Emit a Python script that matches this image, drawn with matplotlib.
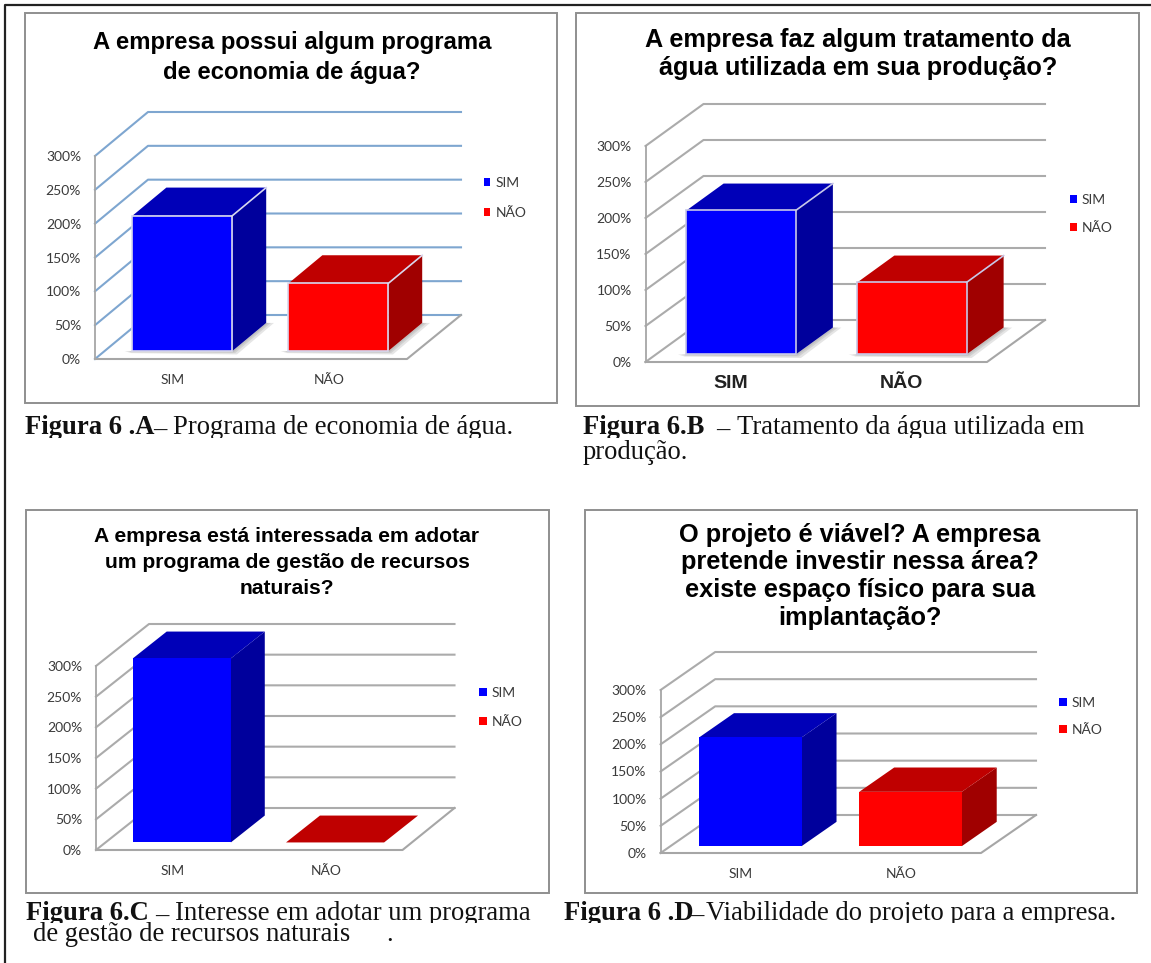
# Imports
from matplotlib import pyplot as plt
from matplotlib.patches import Patch, Polygon, Rectangle
from matplotlib.transforms import Bbox

# Data
CATEGORIES: list[str] = ["SIM", "NÃO"]
Y_TICKS: list[int] = [0, 50, 100, 150, 200, 250, 300]
VALUES_A: list[int] = [200, 100]
VALUES_B: list[int] = [200, 100]
VALUES_C: list[int] = [300, 0]
VALUES_D: list[int] = [200, 100]
TITLE_A: list[str] = ["A empresa possui algum programa", "de economia de água?"]
TITLE_B: list[str] = ["A empresa faz algum tratamento da", "água utilizada em sua produção?"]
TITLE_C: list[str] = ["A empresa está interessada em adotar", "um programa de gestão de recursos", "naturais?"]
TITLE_D: list[str] = ["O projeto é viável? A empresa", "pretende investir nessa área?", "existe espaço físico para sua", "implantação?"]

# Constants
WIDTH: int = 1151
HEIGHT: int = 963
DPI: int = 100
BLUE: tuple = ("#0000ff", "#0000b8", "#00009c")
RED: tuple = ("#ff0000", "#bf0000", "#a00000")
BAR_LEFT: float = 0.24
BAR_WIDTH: float = 0.64
BAR_LIFT: float = 0.18
BAR_DEPTH: float = 0.64
TITLE_FONT: str = "Liberation Sans"
TICK_FONT: str = "Lato"
CAPTION_FONT: str = "Liberation Serif"
CAPTION_SIZE: float = 19.2

fig = plt.figure(figsize=(WIDTH / DPI, HEIGHT / DPI), dpi=DPI, facecolor="white")


# Helpers working in pixels of the picture, y going down
def fx(x):
	return x / WIDTH


def fy(y):
	return 1 - y / HEIGHT


def box(x0, y0, x1, y1, color, lw):
	fig.add_artist(Rectangle((fx(x0), fy(y1)), (x1 - x0) / WIDTH, (y1 - y0) / HEIGHT, fill=False, edgecolor=color, linewidth=lw, transform=fig.transFigure))


def caption(x, y, text, bold=False, cut=None):
	label = fig.text(fx(x), fy(y), text, family=CAPTION_FONT, fontsize=CAPTION_SIZE, weight="bold" if bold else "normal", color="#111111", va="baseline")
	# The scanned captions lose their descenders on the first line
	if cut is not None:
		label.set_clip_box(Bbox([[0, HEIGHT - cut], [WIDTH, HEIGHT]]))
		label.set_clip_on(True)


def draw_panel(values, title, frame, wall, depth, grid_right, title_pos, title_size, title_gap, grid_color, legend_pos, legend_gap, marker, edge=None, shadow=False, bold_x=False):
	box(*frame, "#8f8f8f", 1.4)

	# Title
	for i, line in enumerate(title):
		fig.text(fx(title_pos[0]), fy(title_pos[1] + i * title_gap), line, family=TITLE_FONT, weight="bold", fontsize=title_size, color="black", ha="center", va="center")

	# Axes covering the front plane of the chart
	wall_x, y_top, front_right, y_zero = wall
	ax = fig.add_axes([fx(wall_x), fy(y_zero), (front_right - wall_x) / WIDTH, (y_zero - y_top) / HEIGHT])
	ax.set_xlim(0, len(values))
	ax.set_ylim(0, Y_TICKS[-1])
	ax.patch.set_visible(False)
	for spine in ax.spines.values():
		spine.set_visible(False)

	# Depth of the box in data units
	x_per_px = len(values) / (front_right - wall_x)
	y_per_px = Y_TICKS[-1] / (y_zero - y_top)
	dx = depth[0] * x_per_px
	dy = depth[1] * y_per_px
	right = (grid_right - wall_x) * x_per_px

	# Walls and floor
	for tick in Y_TICKS:
		ax.plot([0, dx, right], [tick, tick + dy, tick + dy], color=grid_color, lw=1.5, clip_on=False, zorder=1)
	ax.plot([0, 0], [0, Y_TICKS[-1]], color="#a6a6a6", lw=1.3, clip_on=False, zorder=1)
	ax.plot([0, len(values), right], [0, 0, dy], color="#a6a6a6", lw=1.5, clip_on=False, zorder=1)

	# Bars
	lift = BAR_LIFT * dy
	for i, (category, value, colors) in enumerate(zip(CATEGORIES, values, (BLUE, RED))):
		x0 = i + BAR_LEFT
		x1 = x0 + BAR_WIDTH
		top = lift + value
		bar_dx = BAR_DEPTH * dx
		bar_dy = BAR_DEPTH * dy
		if shadow:
			for grow in (1.0, 0.6, 0.3):
				ax.add_patch(Polygon([(x0 - 0.05 * grow, lift), (x1, lift), (x1 + bar_dx, lift + bar_dy), (x1 + bar_dx + 0.05 * grow, lift + bar_dy), (x1 + 0.03 * grow, lift - 5 * grow), (x0 - 0.01 * grow, lift - 3 * grow)], facecolor="#808080", alpha=0.2, edgecolor="none", clip_on=False, zorder=2))
		if value > 0:
			ax.bar(x0, value, BAR_WIDTH, bottom=lift, align="edge", color=colors[0], edgecolor=edge if edge else colors[0], linewidth=1.2 if edge else 0, clip_on=False, zorder=4)
			ax.add_patch(Polygon([(x1, lift), (x1 + bar_dx, lift + bar_dy), (x1 + bar_dx, top + bar_dy), (x1, top)], facecolor=colors[2], edgecolor="none", clip_on=False, zorder=3))
		ax.add_patch(Polygon([(x0, top), (x1, top), (x1 + bar_dx, top + bar_dy), (x0 + bar_dx, top + bar_dy)], facecolor=colors[1], edgecolor="none", clip_on=False, zorder=3))
		if edge and value > 0:
			ax.plot([x1, x1 + bar_dx], [top, top + bar_dy], color=edge, lw=1.2, clip_on=False, zorder=5)

	# Ticks
	ax.set_yticks(Y_TICKS)
	ax.set_yticklabels([f"{tick}%" for tick in Y_TICKS], family=TICK_FONT, fontsize=10, color="#3a3a3a")
	ax.set_xticks([i + 0.5 for i in range(len(values))])
	if bold_x:
		ax.set_xticklabels(CATEGORIES, family=TITLE_FONT, weight="bold", fontsize=14, color="#222222")
		ax.tick_params(axis="x", length=0, pad=9)
	else:
		ax.set_xticklabels(CATEGORIES, family=TICK_FONT, fontsize=10, color="#3a3a3a")
		ax.tick_params(axis="x", length=0, pad=11)
	ax.tick_params(axis="y", length=0, pad=10)

	# Legend
	handles = [Patch(facecolor=BLUE[0], lw=0, label=CATEGORIES[0]), Patch(facecolor=RED[0], lw=0, label=CATEGORIES[1])]
	ax.legend(handles=handles, loc="upper left", bbox_to_anchor=(fx(legend_pos[0]), fy(legend_pos[1] - 5)), bbox_transform=fig.transFigure, frameon=False, borderpad=0, borderaxespad=0, handlelength=marker / 13.9, handleheight=marker / 13.9, handletextpad=0.35, labelspacing=(legend_gap - 11.9) / 13.9, prop={"family": TICK_FONT, "size": 10}, labelcolor="#3a3a3a")


# Outer frame of the page
fig.add_artist(plt.Line2D([fx(5), fx(5), fx(WIDTH)], [fy(HEIGHT), fy(5), fy(5)], color="#222222", lw=1.6, transform=fig.transFigure))

# Panels
draw_panel(VALUES_A, TITLE_A, (25, 13, 557, 403), (95, 156, 407, 359), (53, 44), 461, (292, 42), 17.2, 31, "#7ea6d0", (484, 182), 30, 6.5, edge="#d8d8ee", shadow=True)
draw_panel(VALUES_B, TITLE_B, (576, 13, 1139, 406), (645.5, 146, 987, 362), (58, 42), 1045, (858, 40), 18.2, 28, "#ababab", (1070, 199), 28, 7, edge="#c8c8e8", shadow=True, bold_x=True)
draw_panel(VALUES_C, TITLE_C, (26, 510, 549, 893), (96, 666, 402.5, 850), (53, 42), 454.5, (287, 536), 15.2, 26, "#ababab", (479, 692), 29, 8)
draw_panel(VALUES_D, TITLE_D, (585, 510, 1137, 893), (660.6, 690, 981, 853), (54.6, 38), 1036, (860, 535), 18.3, 27.5, "#ababab", (1059, 702), 27, 8)

# Captions
caption(25, 434, "Figura 6 .A", bold=True, cut=438)
caption(153, 437, "–")
caption(173, 434, "Programa de economia de água.", cut=438)
caption(583, 434, "Figura 6.B", bold=True, cut=438)
caption(716, 437, "–")
caption(737, 434, "Tratamento da água utilizada em", cut=438)
caption(583, 459, "produção.")
caption(26, 920, "Figura 6.C", bold=True, cut=923)
caption(155, 923, "–")
caption(175, 920, "Interesse em adotar um programa", cut=923)
caption(33, 941, "de gestão de recursos naturais")
caption(386, 941, ".")
caption(564, 920, "Figura 6 .D", bold=True, cut=923)
caption(690, 923, "–")
caption(706, 920, "Viabilidade do projeto para a empresa.", cut=923)

fig.savefig("out.png", dpi=DPI)
